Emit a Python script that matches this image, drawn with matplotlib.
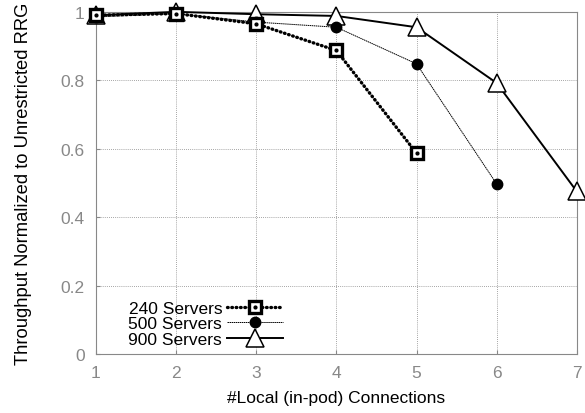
import matplotlib
matplotlib.use("Agg")
import matplotlib.pyplot as plt
from matplotlib.legend_handler import HandlerTuple

plt.rcParams["font.family"] = ["Liberation Sans", "DejaVu Sans"]

# данные
x_240 = [1, 2, 3, 4, 5]
y_240 = [0.99, 0.995, 0.965, 0.887, 0.587]
x_500 = [1, 2, 3, 4, 5, 6]
y_500 = [0.985, 0.995, 0.97, 0.955, 0.848, 0.497]
x_900 = [1, 2, 3, 4, 5, 6, 7]
y_900 = [0.99, 1.0, 0.993, 0.988, 0.955, 0.792, 0.475]
labels = ["240 Servers", "500 Servers", "900 Servers"]

GRAY = "#888888"
FS = 12.5

fig = plt.figure(figsize=(5.85, 4.14), dpi=100)
ax = fig.add_axes([0.164, 0.1425, 0.822, 0.8265])

l900, = ax.plot(x_900, y_900, color="black", lw=1.4, marker="^", ms=13.5,
                mfc="white", mec="black", mew=1.1, zorder=3, clip_on=False)
l500, = ax.plot(x_500, y_500, color="black", lw=0.7, ls=(0, (1.5, 0.6)),
                marker="o", ms=7.5, mfc="black", mec="black", zorder=4,
                clip_on=False)
l240, = ax.plot(x_240, y_240, color="black", lw=2.4, ls=(0, (0.2, 1.1)),
                dash_capstyle="round", marker="s", ms=9, mfc="white",
                mec="black", mew=2.4, zorder=5, clip_on=False)
d240, = ax.plot(x_240, y_240, ls="none", marker="o", ms=2, color="black",
                zorder=6, clip_on=False)

ax.set_xlim(1, 7)
ax.set_ylim(0, 1)
ax.set_xticks(range(1, 8))
ax.set_yticks([0, 0.2, 0.4, 0.6, 0.8, 1])
ax.set_yticklabels(["0", "0.2", "0.4", "0.6", "0.8", "1"])
ax.grid(True, color=GRAY, ls=(0, (1, 1.5)), lw=0.6)
for s in ax.spines.values():
    s.set_linestyle((0, (3, 1, 1, 1)))
    s.set_color(GRAY)
    s.set_linewidth(0.8)
ax.tick_params(colors=GRAY, labelsize=FS, length=3, direction="in", pad=8)
for t in ax.get_xticklabels() + ax.get_yticklabels():
    t.set_color(GRAY)

ax.set_xlabel("#Local (in-pod) Connections", fontsize=FS, labelpad=7)
ax.set_ylabel("Throughput Normalized to Unrestricted RRG", fontsize=13.2,
              labelpad=21)

ax.legend([(l240, d240), l500, l900], labels,
          handler_map={tuple: HandlerTuple(ndivide=1, pad=0)},
          loc="lower left", bbox_to_anchor=(0.035, -0.025), frameon=False,
          markerfirst=False, fontsize=FS, handlelength=3.2,
          labelspacing=0.02, handletextpad=0.3)

fig.savefig("out.png", dpi=100)
